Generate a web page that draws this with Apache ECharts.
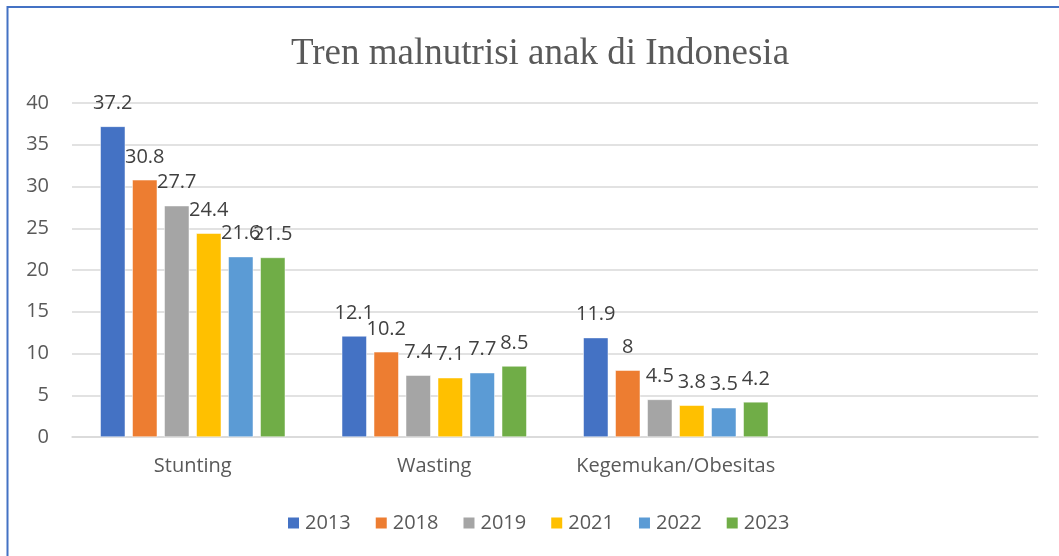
<!DOCTYPE html>
<html>
<head>
<meta charset="utf-8">
<script src="https://cdn.jsdelivr.net/npm/echarts@6/dist/echarts.min.js"></script>
<style>
html,body{margin:0;padding:0;background:#fff;}
#chart{width:1059px;height:556px;}
</style>
</head>
<body>
<div id="chart"></div>
<script>
const categories = ['Stunting', 'Wasting', 'Kegemukan/Obesitas', ''];
const years = ['2013', '2018', '2019', '2021', '2022', '2023'];
const v2013 = [37.2, 12.1, 11.9];
const v2018 = [30.8, 10.2, 8];
const v2019 = [27.7, 7.4, 4.5];
const v2021 = [24.4, 7.1, 3.8];
const v2022 = [21.6, 7.7, 3.5];
const v2023 = [21.5, 8.5, 4.2];
const seriesValues = [v2013, v2018, v2019, v2021, v2022, v2023];
const colors = ['#4472C4', '#ED7D31', '#A5A5A5', '#FFC000', '#5B9BD5', '#70AD47'];
const yTicks = {min: 0, max: 40, interval: 5};

const chart = echarts.init(document.getElementById('chart'), null, {renderer: 'canvas'});
const font = '"Open Sans", Lato, sans-serif';

chart.setOption({
  backgroundColor: '#ffffff',
  animation: false,
  title: {
    text: 'Tren malnutrisi anak di Indonesia',
    left: 286,
    top: 31,
    textStyle: {fontFamily: '"Liberation Serif", "Times New Roman", serif', fontSize: 37, fontWeight: 'normal', color: '#595959'}
  },
  legend: {
    data: years,
    left: 281,
    top: 508,
    itemWidth: 13,
    itemHeight: 13,
    itemGap: 23,
    icon: 'rect',
    textStyle: {fontFamily: font, fontSize: 20, color: '#595959'}
  },
  grid: {left: 72, right: 21, top: 103, bottom: 119, containLabel: false},
  xAxis: {
    type: 'category',
    data: categories,
    axisLine: {show: true, lineStyle: {color: '#d9d9d9', width: 1.5}},
    axisTick: {show: false},
    axisLabel: {fontFamily: font, fontSize: 20, color: '#595959', margin: 19, interval: 0}
  },
  yAxis: {
    type: 'value',
    min: yTicks.min,
    max: yTicks.max,
    interval: yTicks.interval,
    axisLine: {show: false},
    axisTick: {show: false},
    splitLine: {lineStyle: {color: '#d9d9d9', width: 1.5}},
    axisLabel: {fontFamily: font, fontSize: 20, color: '#595959', margin: 23}
  },
  graphic: [{
    type: 'rect',
    shape: {x: 7.5, y: 7, width: 1100, height: 600},
    style: {fill: 'none', stroke: '#4472C4', lineWidth: 2}
  }],
  series: years.map((y, i) => ({
    name: y,
    type: 'bar',
    data: seriesValues[i],
    barWidth: 25,
    barGap: '28%',
    itemStyle: {color: colors[i], borderColor: '#ffffff', borderWidth: 0.5},
    label: {
      show: true,
      position: 'top',
      distance: 13,
      fontFamily: font,
      fontSize: 20,
      color: '#404040'
    }
  }))
});
</script>
</body>
</html>
